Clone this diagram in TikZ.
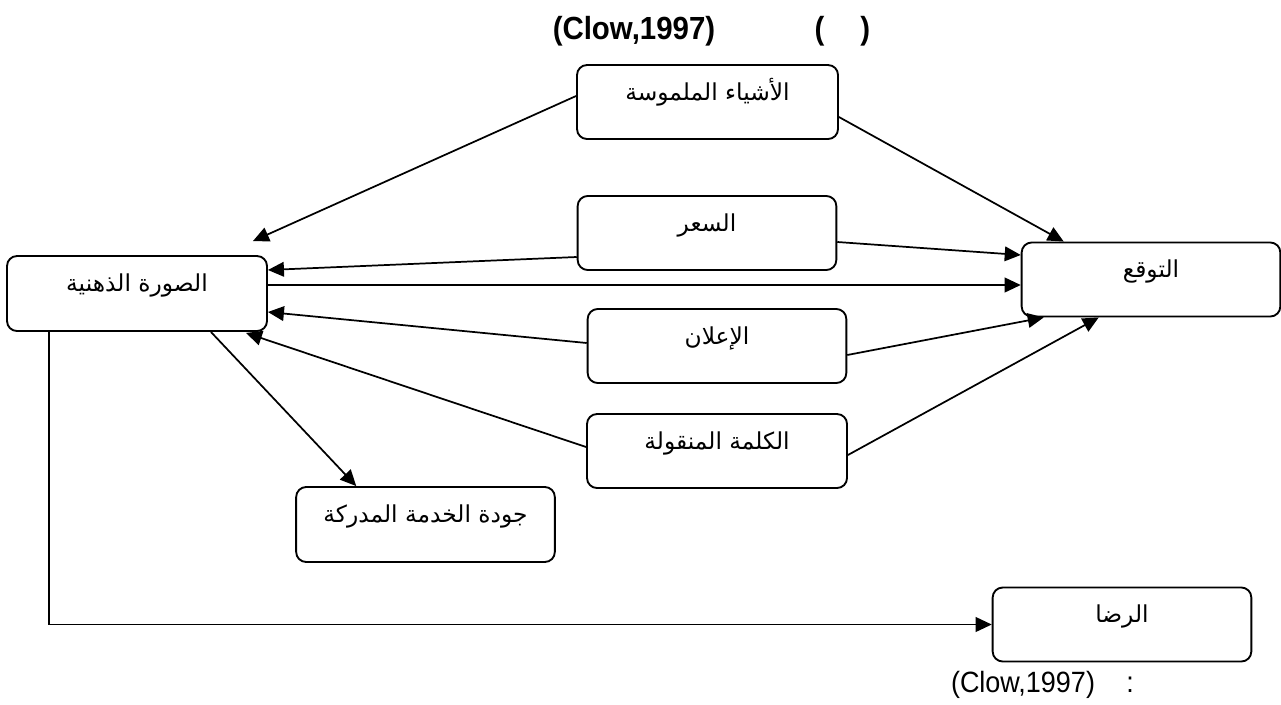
\documentclass[tikz,border=0pt]{standalone}
\usepackage{fontspec}
\setmainfont{Liberation Sans}
\newfontfamily\arabicfont[Script=Arabic]{DejaVu Sans}
\newfontfamily\narrowsans[FakeStretch=0.92]{Liberation Sans}
\TeXXeTstate=1
\usetikzlibrary{arrows.meta,calc}
\tikzset{
  box/.style={draw, line width=1.4pt, rounded corners=7.5pt, minimum width=194pt,
    minimum height=55.5pt, inner sep=0pt, text height=26.5pt, text depth=29pt,
    font=\arabicfont\fontsize{17.5}{20}\selectfont},
  conn/.style={line width=1.3pt, -{Triangle[length=12pt,width=11pt]}},
}
\newcommand{\ar}[1]{\beginR #1\endR}
\begin{document}
\begin{tikzpicture}[x=0.75pt,y=-0.75pt]
\useasboundingbox (0,0) rectangle (1281,704);
% boxes
\node[box, minimum width=195.75pt] (ash) at (707.5,102) {\ar{الأشياء الملموسة}};
\node[box] (sir) at (707,233) {\ar{السعر}};
\node[box, minimum width=195pt, minimum height=56.25pt] (sura) at (137,293.5) {\ar{الصورة الذهنية}};
\node[box, minimum height=54.75pt] (taw) at (1151,279.5) {\ar{التوقع}};
\node[box, minimum height=54pt] (ilan) at (717,346) {\ar{الإعلان}};
\node[box, minimum width=195pt] (kal) at (717,451) {\ar{الكلمة المنقولة}};
\node[box, minimum height=56.25pt] (jaw) at (425.5,524.5) {\ar{جودة الخدمة المدركة}};
\node[box, minimum height=54.75pt] (rida) at (1122,624.5) {\ar{الرضا}};
% title and caption
\node[font=\narrowsans\bfseries\fontsize{24}{28}\selectfont, inner sep=0pt] (title) at (634,31) {(Clow,1997)};
\node[font=\narrowsans\bfseries\fontsize{24}{28}\selectfont, inner sep=0pt] (tparen) at (842.5,31) {(\hspace{27pt})};
\node[font=\narrowsans\fontsize{22}{26}\selectfont, inner sep=0pt] (cap) at (1023,685) {(Clow,1997)};
\node[font=\narrowsans\fontsize{22}{26}\selectfont, inner sep=0pt] (colon) at (1130,685) {:};
% connectors
\draw[conn] ([shift={(0,-6)}]ash.west) -- ([shift={(-15,-14)}]sura.north east);
\draw[conn] ([shift={(0,15)}]ash.east) -- ([shift={(43,0)}]taw.north west);
\draw[conn] ([shift={(0,24)}]sir.west) -- ([shift={(0,-23.5)}]sura.east);
\draw[conn] ([shift={(0,9)}]sir.east) -- ([shift={(0,-24.5)}]taw.west);
\draw[conn] ([shift={(0,-8.5)}]sura.east) -- ([shift={(0,5.5)}]taw.west);
\draw[conn] ([shift={(0,-3)}]ilan.west) -- ([shift={(0,18.5)}]sura.east);
\draw[conn] ([shift={(0,9)}]ilan.east) -- ([shift={(23,0)}]taw.south west);
\draw[conn] ([shift={(0,-4)}]kal.west) -- ([shift={(-22,1)}]sura.south east);
\draw[conn] ([shift={(0,4)}]kal.east) -- ([shift={(78,0)}]taw.south west);
\draw[conn] ([shift={(-57,0)}]sura.south east) -- ([shift={(61,0)}]jaw.north west);
\draw[conn] ([shift={(43,0)}]sura.south west) |- (rida.west);
\end{tikzpicture}
\end{document}
